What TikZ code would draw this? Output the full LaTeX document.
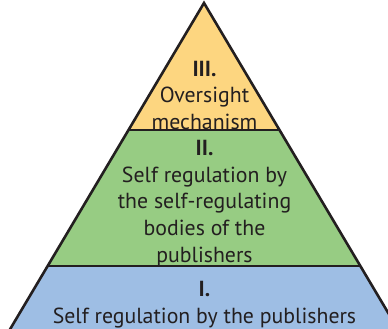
\documentclass[tikz,border=0pt]{standalone}
\usepackage{fontspec}
\setmainfont{PT Sans}
\definecolor{ytop}{RGB}{253,214,128}
\definecolor{gmid}{RGB}{151,204,131}
\definecolor{bbot}{RGB}{158,190,228}
\definecolor{ink}{RGB}{35,31,32}
\begin{document}
\begin{tikzpicture}[x=1pt,y=-1pt,
  band/.style={line width=2.6pt,draw=ink,line join=miter},
  lbl/.style={text=ink,align=center,inner sep=0pt,anchor=base,font=\fontsize{21.8}{26.7}\selectfont}]
\useasboundingbox (0,0) rectangle (388,329);
\clip (0,0) rectangle (388,329);
\coordinate (apex) at (204,3);
\coordinate (l1) at (128.4,130);
\coordinate (r1) at (279.6,130);
\coordinate (l2) at (47.5,266);
\coordinate (r2) at (360.5,266);
\coordinate (l3) at (9.9,329.5);
\coordinate (r3) at (398.1,329.5);
% top band
\fill[ytop] (apex) -- (r1) -- (l1) -- cycle;
\node[lbl] (t3) at (204.5,129.5) {\textbf{III.}\\Oversight\\mechanism};
% middle band
\fill[gmid] (l1) -- (r1) -- (r2) -- (l2) -- cycle;
\node[lbl] (t2) at (204.5,262.3) {\textbf{II.}\\Self regulation by\\the self-regulating\\bodies of the\\publishers};
% bottom band
\fill[bbot] (l2) -- (r2) -- (r3) -- (l3) -- cycle;
\node[lbl] (t1) at (204.5,323) {\textbf{I.}\\Self regulation by the publishers};
% outlines
\draw[band] (l3) -- (apex) -- (r3);
\draw[band] (l1) -- (r1);
\draw[band] (l2) -- (r2);
\end{tikzpicture}
\end{document}
